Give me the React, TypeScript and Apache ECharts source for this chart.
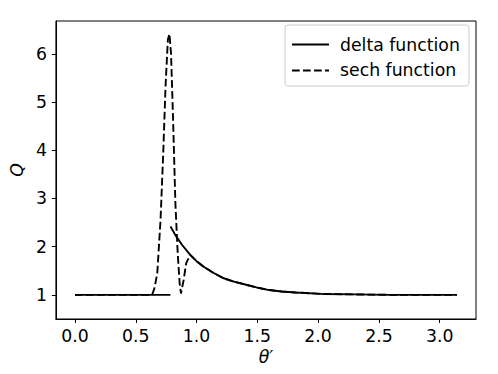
import React, { useEffect, useRef } from "react";
import * as echarts from "echarts";

const xTicks = [0, 0.5, 1.0, 1.5, 2.0, 2.5, 3.0];
const yTicks = [1, 2, 3, 4, 5, 6];

// delta function: flat part, then (after a break) the decaying branch
const deltaX = [0, 0.3, 0.6, 0.785, 0.786, 0.786, 0.826, 0.88, 0.948, 1.0, 1.056, 1.13, 1.218, 1.3, 1.408, 1.5, 1.598, 1.7, 1.814, 2.03, 2.3, 2.6, 2.9, 3.1416];
const deltaQ: (number | string)[] = [1.0, 1.0, 1.0, 1.0, "-", 2.42, 2.24, 2.04, 1.83, 1.7, 1.59, 1.47, 1.35, 1.28, 1.21, 1.15, 1.1, 1.07, 1.05, 1.02, 1.01, 1.0, 1.0, 1.0];

// sech function
const sechX = [0, 0.3, 0.6, 0.636, 0.655, 0.677, 0.704, 0.726, 0.745, 0.764, 0.777, 0.79, 0.807, 0.826, 0.845, 0.861, 0.872, 0.894, 0.915, 0.948, 1.0, 1.056, 1.13, 1.218, 1.3, 1.408, 1.5, 1.598, 1.7, 1.814, 2.03, 2.3, 2.6, 2.9, 3.1416];
const sechQ = [1.0, 1.0, 1.0, 1.01, 1.15, 1.45, 2.56, 3.94, 5.32, 6.29, 6.41, 6.01, 4.63, 2.9, 1.87, 1.24, 1.03, 1.31, 1.66, 1.83, 1.7, 1.59, 1.47, 1.35, 1.28, 1.21, 1.15, 1.1, 1.07, 1.05, 1.02, 1.01, 1.0, 1.0, 1.0];

const FONT = "DejaVu Sans";
const FS = 17.3;

export default function App() {
  const ref = useRef<HTMLDivElement>(null);
  useEffect(() => {
    if (!ref.current) return;
    const chart = echarts.init(ref.current, undefined, { renderer: "svg" });
    const delta = deltaX.map((x, i) => [x, deltaQ[i]]);
    const sech = sechX.map((x, i) => [x, sechQ[i]]);
    chart.setOption({
      animation: false,
      backgroundColor: "#ffffff",
      grid: {
        left: 50,
        right: 22,
        top: 21,
        bottom: 55,
        show: true,
        borderColor: "#000000",
        borderWidth: 1,
      },
      xAxis: {
        type: "value",
        min: -0.157,
        max: 3.299,
        name: "θ′",
        nameLocation: "middle",
        nameGap: 27,
        nameTextStyle: { fontFamily: FONT, fontSize: FS, fontStyle: "italic", color: "#000" },
        splitLine: { show: false },
        axisLine: { show: true, onZero: false, lineStyle: { color: "#000", width: 1 } },
        axisTick: { show: true, length: 4, customValues: xTicks, lineStyle: { color: "#000" } },
        axisLabel: {
          customValues: xTicks,
          formatter: (v: number) => v.toFixed(1),
          fontFamily: FONT,
          fontSize: FS,
          color: "#000",
          margin: 8,
        },
      },
      yAxis: {
        type: "value",
        min: 0.5,
        max: 6.68,
        name: "Q",
        nameLocation: "middle",
        nameGap: 24,
        nameTextStyle: { fontFamily: FONT, fontSize: FS, fontStyle: "italic", color: "#000" },
        splitLine: { show: false },
        axisLine: { show: true, onZero: false, lineStyle: { color: "#000", width: 1 } },
        axisTick: { show: true, length: 4, customValues: yTicks, lineStyle: { color: "#000" } },
        axisLabel: {
          customValues: yTicks,
          formatter: (v: number) => String(v),
          fontFamily: FONT,
          fontSize: FS,
          color: "#000",
          margin: 9,
        },
      },
      series: [
        {
          name: "delta function",
          type: "line",
          data: delta,
          showSymbol: false,
          symbol: "none",
          connectNulls: false,
          lineStyle: { color: "#000", width: 1.9 },
          z: 2,
        },
        {
          name: "sech function",
          type: "line",
          data: sech,
          showSymbol: false,
          symbol: "none",
          lineStyle: { color: "#000", width: 1.9, type: [7.7, 3.3] },
          z: 3,
        },
      ],
      graphic: [
        {
          type: "rect",
          z: 10,
          shape: { x: 285, y: 25, width: 184, height: 61, r: 3 },
          style: { fill: "rgba(255,255,255,0.8)", stroke: "#cccccc", lineWidth: 1 },
        },
        {
          type: "line",
          z: 11,
          shape: { x1: 292, y1: 44.5, x2: 329, y2: 44.5 },
          style: { stroke: "#000", lineWidth: 1.9 },
        },
        {
          type: "line",
          z: 11,
          shape: { x1: 292, y1: 70.5, x2: 329, y2: 70.5 },
          style: { stroke: "#000", lineWidth: 1.9, lineDash: [7.7, 3.3] },
        },
        {
          type: "text",
          z: 11,
          x: 340,
          y: 45,
          style: { text: "delta function", fontFamily: FONT, fontSize: FS, fill: "#000", verticalAlign: "middle" },
        },
        {
          type: "text",
          z: 11,
          x: 340,
          y: 70,
          style: { text: "sech function", fontFamily: FONT, fontSize: FS, fill: "#000", verticalAlign: "middle" },
        },
      ],
    });
    return () => chart.dispose();
  }, []);
  return (
    <div
      ref={ref}
      style={{ position: "fixed", left: 0, top: 0, width: 498, height: 374, background: "#fff" }}
    />
  );
}
